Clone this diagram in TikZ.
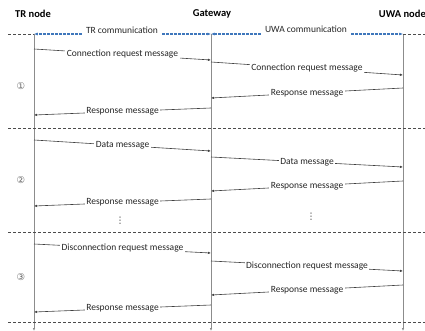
\documentclass[tikz,border=0pt]{standalone}
\usepackage{fontspec}
\setmainfont{Carlito}
\newfontfamily\symfont{DejaVu Sans}
\usetikzlibrary{arrows.meta}
\definecolor{lifegray}{HTML}{8C8C8C}
\definecolor{msggray}{HTML}{404040}
\definecolor{commblue}{HTML}{3F77BC}
\begin{document}
\begin{tikzpicture}[x=1pt,y=-1pt,
  hdr/.style={font=\bfseries\fontsize{10.5}{12}\selectfont, text=black, inner sep=1pt},
  life/.style={draw=lifegray, line width=0.6pt, -{Latex[length=3pt,width=2.5pt]}},
  msg/.style={draw=msggray, line width=0.6pt, -{Latex[length=3pt,width=2.5pt]}},
  lbl/.style={fill=white, inner sep=1.5pt, font=\fontsize{9.5}{11}\selectfont, text=black!85},
  sep/.style={draw=black!70, dash pattern=on 3pt off 2pt, line width=0.7pt},
  comm/.style={draw=commblue, dash pattern=on 3pt off 1pt, line width=1.1pt, -{Latex[length=3.5pt,width=3pt]}},
  commlbl/.style={font=\fontsize{9.5}{11}\selectfont, text=black!85, inner sep=1pt},
  phase/.style={font=\symfont\fontsize{9.5}{11}\selectfont, text=black!60},
  dots/.style={font=\symfont\fontsize{9}{11}\selectfont, text=black!80}]
\useasboundingbox (0,0) rectangle (425,331);

% participants
\node[hdr] (tr)  at (33,14)  {TR node};
\node[hdr] (gw)  at (212,14) {Gateway};
\node[hdr, anchor=east] (uwa) at (427,14) {UWA node};

% lifelines
\coordinate (trtop) at (34,34);   \coordinate (trbot) at (34,331);
\coordinate (gwtop) at (211,34);  \coordinate (gwbot) at (211,331);
\coordinate (uwtop) at (403,34);  \coordinate (uwbot) at (403,331);
\draw[life] (trtop) -- (trbot);
\draw[life] (gwtop) -- (gwbot);
\draw[life] (uwtop) -- (uwbot);

% communication ranges
\coordinate (lend) at (8,34);
\coordinate (rend) at (425,34);
\draw[sep] (lend) -- (trtop);
\draw[sep] (uwtop) -- (rend);
\node[commlbl] (trc) at (122,30) {TR communication};
\node[commlbl] (uwc) at (306,29) {UWA communication};
\draw[comm] ([xshift=-3pt]trc.west |- trtop) -- (trtop);
\draw[comm] ([xshift=3pt]trc.east |- gwtop) -- (gwtop);
\draw[comm] ([xshift=-3pt]uwc.west |- gwtop) -- (gwtop);
\draw[comm] ([xshift=3pt]uwc.east |- uwtop) -- (uwtop);

% phase separators
\foreach \y/\n in {128/s1, 232/s2, 322/s3}{
  \coordinate (\n l) at (8,\y);
  \coordinate (\n r) at (425,\y);
  \draw[sep] (\n l) -- (\n r);
}

% phase numbers
\node[phase] (p1) at (21,86)  {①};
\node[phase] (p2) at (21,180) {②};
\node[phase] (p3) at (21,277) {③};

% phase 1: connection
\coordinate (a1) at (34,49);   \coordinate (b1) at (211,60);
\coordinate (a2) at (211,62);  \coordinate (b2) at (403,75);
\coordinate (a3) at (403,88);  \coordinate (b3) at (211,98);
\coordinate (a4) at (211,108); \coordinate (b4) at (34,115);
\draw[msg] (a1) -- node[lbl]{Connection request message} (b1);
\draw[msg] (a2) -- node[lbl]{Connection request message} (b2);
\draw[msg] (a3) -- node[lbl]{Response message} (b3);
\draw[msg] (a4) -- node[lbl]{Response message} (b4);

% phase 2: data
\coordinate (a5) at (34,140);  \coordinate (b5) at (211,151);
\coordinate (a6) at (211,157); \coordinate (b6) at (403,167);
\coordinate (a7) at (403,181); \coordinate (b7) at (211,191);
\coordinate (a8) at (211,199); \coordinate (b8) at (34,206);
\draw[msg] (a5) -- node[lbl]{Data message} (b5);
\draw[msg] (a6) -- node[lbl]{Data message} (b6);
\draw[msg] (a7) -- node[lbl]{Response message} (b7);
\draw[msg] (a8) -- node[lbl]{Response message} (b8);
\node[dots] (d1) at (120,221) {⋮};
\node[dots] (d2) at (311,217) {⋮};

% phase 3: disconnection
\coordinate (a9)  at (34,244);  \coordinate (b9)  at (211,253);
\coordinate (a10) at (211,261); \coordinate (b10) at (403,271);
\coordinate (a11) at (403,285); \coordinate (b11) at (211,295);
\coordinate (a12) at (211,305); \coordinate (b12) at (34,312);
\draw[msg] (a9)  -- node[lbl]{Disconnection request message} (b9);
\draw[msg] (a10) -- node[lbl]{Disconnection request message} (b10);
\draw[msg] (a11) -- node[lbl]{Response message} (b11);
\draw[msg] (a12) -- node[lbl]{Response message} (b12);
\end{tikzpicture}
\end{document}
